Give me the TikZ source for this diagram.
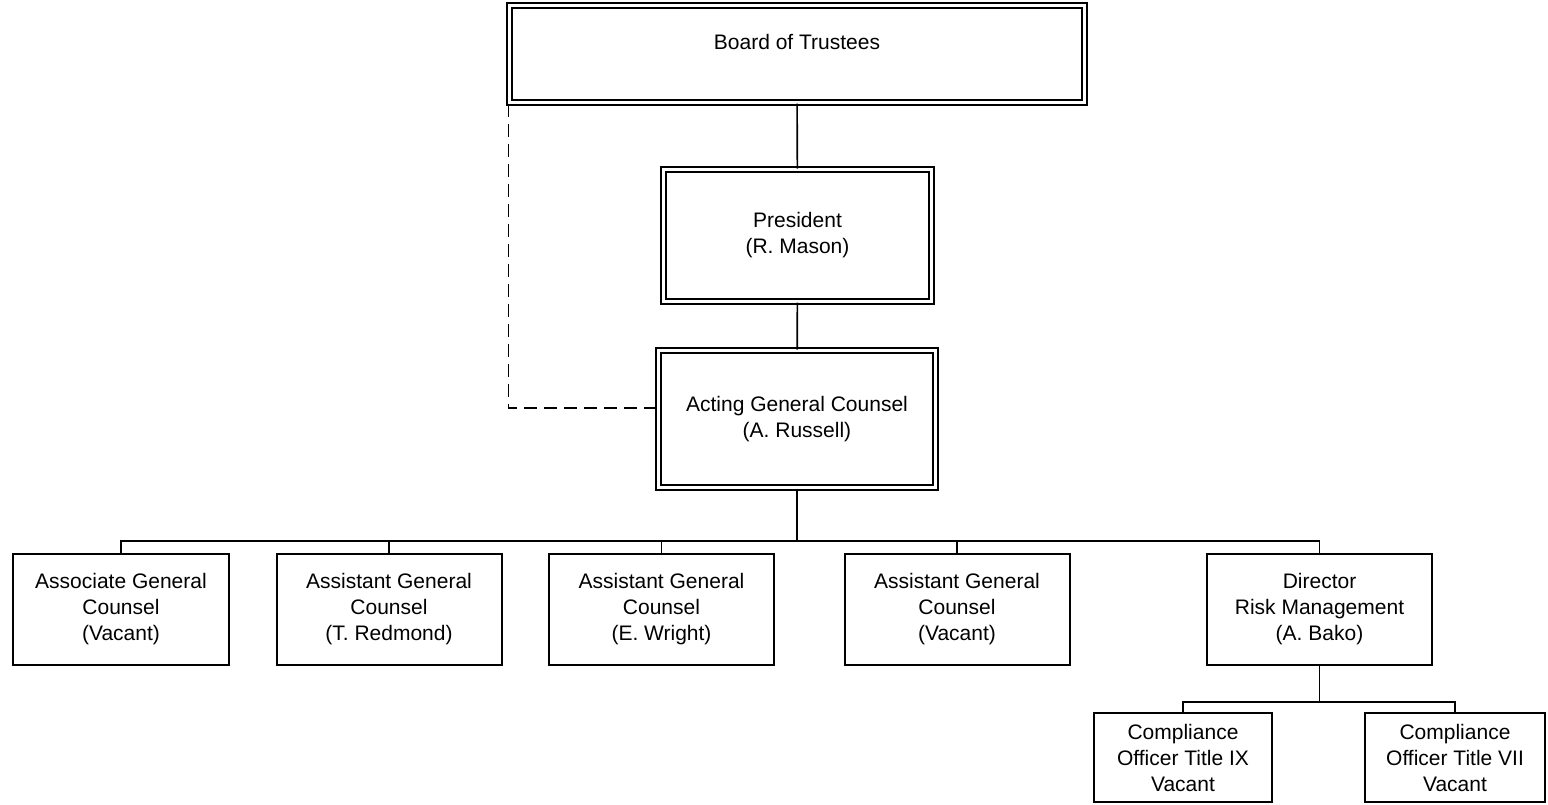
\documentclass[tikz,border=0pt]{standalone}
\usepackage{fontspec}
\setmainfont{Liberation Sans}
\begin{document}
\begin{tikzpicture}[x=0.5pt,y=-0.5pt,
  font=\fontsize{10.5}{13}\selectfont,
  unit/.style={draw, line width=1pt, align=center, inner sep=0pt},
  topunit/.style={unit, double, double distance=1.5pt},
  link/.style={line width=0.8pt}]
\useasboundingbox (0,0) rectangle (1548,804);
\coordinate (B) at (797,54);
\coordinate (P) at (797.5,235.5);
\coordinate (G) at (797,419);
\coordinate (bus) at (797,541);
\coordinate (rbus) at (1319.5,702);
\node [topunit, minimum width=287.5pt, minimum height=48.5pt, label={[yshift=6pt]center:Board of Trustees}] (board) at (B) {};
\node [topunit, minimum width=134pt, minimum height=66pt] (pres) at (P) {President\\(R. Mason)};
\node [topunit, minimum width=138.5pt, minimum height=68.5pt] (agc) at (G) {Acting General Counsel\\(A. Russell)};
\node [unit, minimum width=108pt, minimum height=55.5pt] (assoc) at (121,609.5) {Associate General\\Counsel\\(Vacant)};
\node [unit, minimum width=112.5pt, minimum height=55.5pt] (asst1) at (389,609.5) {Assistant General\\Counsel\\(T. Redmond)};
\node [unit, minimum width=112.5pt, minimum height=55.5pt] (asst2) at (661.5,609.5) {Assistant General\\Counsel\\(E. Wright)};
\node [unit, minimum width=112.5pt, minimum height=55.5pt] (asst3) at (957,609.5) {Assistant General\\Counsel\\(Vacant)};
\node [unit, minimum width=112.5pt, minimum height=55.5pt] (riskdir) at (1319.5,609.5) {Director\\Risk Management\\(A. Bako)};
\node [unit, minimum width=89pt, minimum height=44.5pt] (compix) at (1183,757.5) {Compliance\\Officer Title IX\\Vacant};
\node [unit, minimum width=90pt, minimum height=44.5pt] (compvii) at (1455,757.5) {Compliance\\Officer Title VII\\Vacant};
% reporting lines
\draw [link] (board) -- (pres);
\draw [link] (pres) -- (agc);
\draw [link, dash pattern=on 6.5pt off 3.5pt] (board.south west) |- ([yshift=5.5pt]agc.west);
\draw [link] (agc) -- (bus);
\foreach \n in {assoc,asst1,asst2,asst3,riskdir}
  \draw [link] (bus) -| (\n.north);
\draw [link] (riskdir) -- (rbus);
\foreach \n in {compix,compvii}
  \draw [link] (rbus) -| (\n.north);
\end{tikzpicture}
\end{document}
